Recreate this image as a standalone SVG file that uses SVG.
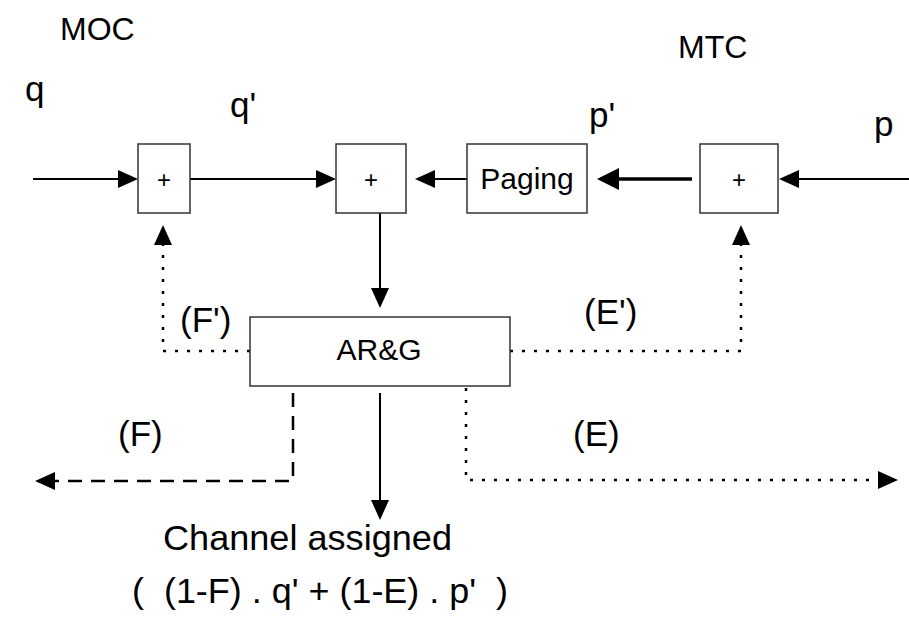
<svg xmlns="http://www.w3.org/2000/svg" width="909" height="617" viewBox="0 0 909 617">
  <style>
    text { font-family: "Liberation Sans", Arial, sans-serif; fill: #000; }
    .box { fill: #fff; stroke: #333; stroke-width: 1.5; }
    .sum { font-size: 24px; text-anchor: middle; }
    .blk { font-size: 30px; text-anchor: middle; }
    .lbl { font-size: 32px; }
    .big { font-size: 35px; }
    .wire { fill: none; stroke: #000; stroke-width: 2; }
    .thick { fill: none; stroke: #000; stroke-width: 3.5; }
    .dot { fill: none; stroke: #000; stroke-width: 2.5; stroke-dasharray: 3 9; }
    .dash { fill: none; stroke: #000; stroke-width: 2.5; stroke-dasharray: 14 9; }
  </style>
  <defs>
    <marker id="ah" markerUnits="userSpaceOnUse" markerWidth="20" markerHeight="18" refX="0" refY="9" orient="auto" overflow="visible">
      <path d="M0,0 L20,9 L0,18 Z" fill="#000"/>
    </marker>
    <marker id="ahBig" markerUnits="userSpaceOnUse" markerWidth="22" markerHeight="22" refX="0" refY="11" orient="auto" overflow="visible">
      <path d="M0,0 L22,11 L0,22 Z" fill="#000"/>
    </marker>
  </defs>

  <!-- flow labels -->
  <text class="lbl" x="60" y="40">MOC</text>
  <text class="lbl" x="678" y="58">MTC</text>
  <text class="big" x="25" y="101">q</text>
  <text class="big" x="230" y="117">q'</text>
  <text class="big" x="589" y="127">p'</text>
  <text class="big" x="874" y="136">p</text>
  <text class="big" x="180" y="332">(F')</text>
  <text class="big" x="584" y="324">(E')</text>
  <text class="big" x="118" y="446">(F)</text>
  <text class="big" x="573" y="446">(E)</text>

  <!-- connectors -->
  <g id="connectors">
    <path class="wire" d="M33,179 H118" marker-end="url(#ah)"/>
    <path class="wire" d="M190,179 H316" marker-end="url(#ah)"/>
    <path class="wire" d="M467,179 H435" marker-end="url(#ah)"/>
    <path class="thick" d="M692,179 H619" marker-end="url(#ahBig)"/>
    <path class="wire" d="M909,179 H799" marker-end="url(#ah)"/>
    <path class="wire" d="M380,213 V288" marker-end="url(#ah)"/>
    <path class="dot" d="M250,351 H163 V245" marker-end="url(#ah)"/>
    <path class="dot" d="M510,351 H741 V245" marker-end="url(#ah)"/>
    <path class="dash" d="M293,393 V481 H55" marker-end="url(#ah)"/>
    <path class="wire" d="M380,393 V500" marker-end="url(#ah)"/>
    <path class="dot" d="M466,376 V480 H878" marker-end="url(#ah)"/>
  </g>

  <!-- nodes -->
  <g id="sum-moc">
    <rect class="box" x="138" y="144" width="52" height="69"/>
    <text class="sum" x="164" y="188">+</text>
  </g>
  <g id="sum-main">
    <rect class="box" x="336" y="144" width="70" height="69"/>
    <text class="sum" x="371" y="188">+</text>
  </g>
  <g id="paging">
    <rect class="box" x="467" y="144" width="120" height="69"/>
    <text class="blk" x="527" y="189">Paging</text>
  </g>
  <g id="sum-mtc">
    <rect class="box" x="700" y="144" width="78" height="69"/>
    <text class="sum" x="739" y="188">+</text>
  </g>
  <g id="arg">
    <rect class="box" x="250" y="317" width="260" height="69"/>
    <text class="blk" x="379" y="360">AR&amp;G</text>
  </g>

  <!-- output -->
  <g id="output">
    <text class="big" x="163" y="550" textLength="289" lengthAdjust="spacingAndGlyphs">Channel assigned</text>
    <text class="big" x="132" y="603" xml:space="preserve" textLength="376" lengthAdjust="spacingAndGlyphs">(  (1-F) . q' + (1-E) . p'  )</text>
  </g>
</svg>
